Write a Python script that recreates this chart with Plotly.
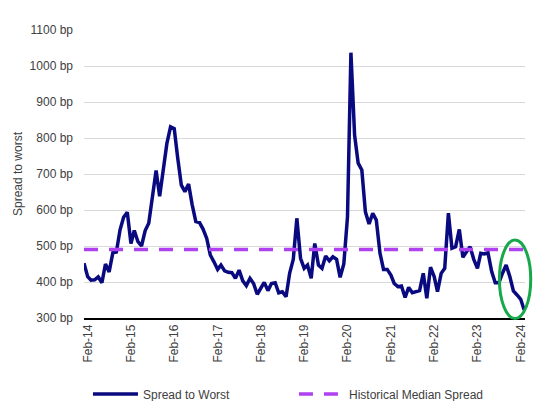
import pandas as pd
import plotly.graph_objects as go

# Monthly spread to worst (bp), Jan-2014 .. Mar-2024
dates = pd.date_range("2014-01-01", periods=123, freq="MS")
spread = [
    452, 415, 405, 406, 414, 398, 450, 428, 481, 483, 545, 580,
    594, 507, 543, 512, 500, 543, 563, 630, 710, 638, 711, 785,
    831, 826, 745, 669, 651, 672, 615, 568, 565, 547, 521, 475,
    456, 435, 447, 431, 427, 426, 410, 433, 403, 390, 410, 396,
    366, 382, 399, 376, 396, 398, 370, 373, 359, 424, 463, 577,
    466, 438, 447, 410, 507, 447, 438, 472, 459, 470, 463, 413,
    450, 581, 1037, 808, 730, 711, 595, 561, 591, 572, 480, 435,
    435, 419, 396, 387, 389, 357, 385, 370, 373, 376, 424, 355,
    441, 415, 373, 424, 438, 591, 494, 498, 546, 469, 484, 498,
    463, 438, 480, 478, 481, 429, 398, 398, 425, 447, 415, 375,
    364, 352, 322,
]
median_value = 490
median = [median_value] * len(dates)

tick_dates = pd.date_range("2014-02-01", periods=11, freq="12MS")
tick_labels = ["Feb-14", "Feb-15", "Feb-16", "Feb-17", "Feb-18", "Feb-19",
               "Feb-20", "Feb-21", "Feb-22", "Feb-23", "Feb-24"]

FONT = "Liberation Sans, Arial, sans-serif"
TXT = "#404040"

fig = go.Figure()
fig.add_trace(go.Scatter(
    x=dates, y=spread, mode="lines", name="Spread to Worst",
    line=dict(color="#0A0A80", width=3.5),
))
fig.add_trace(go.Scatter(
    x=dates, y=median, mode="lines", name="Historical Median Spread",
    line=dict(color="#B041F0", width=3.5, dash="14px,11px"),
))

fig.add_shape(type="circle", xref="paper", yref="paper",
              x0=0.942, x1=1.013, y0=-0.002, y1=0.271,
              line=dict(color="#16A84A", width=3))

# page has an 8px body margin, so the figure is sized to fit the 541x401 window
fig.update_layout(
    width=533, height=393,
    margin=dict(l=76, r=16, t=22, b=83, autoexpand=False),
    paper_bgcolor="white", plot_bgcolor="white",
    font=dict(family=FONT, size=12, color=TXT),
    showlegend=True,
    legend=dict(orientation="h", x=0.009, xanchor="left", y=-0.264, yanchor="middle",
                itemwidth=45, entrywidth=146, entrywidthmode="pixels",
                font=dict(family=FONT, size=12, color=TXT),
                bgcolor="rgba(0,0,0,0)"),
)
fig.update_xaxes(
    type="date", range=["2014-01-01", "2024-03-08"],
    tickvals=tick_dates, ticktext=tick_labels, tickangle=-90,
    showgrid=False, showline=True, linecolor="#000000", linewidth=1.5,
    ticks="", zeroline=False, automargin=False,
    tickfont=dict(family=FONT, size=12, color=TXT),
)
fig.update_yaxes(
    range=[300, 1100], dtick=100, tick0=300, ticksuffix=" bp",
    showgrid=True, gridcolor="#D9D9D9", gridwidth=1,
    showline=False, zeroline=False, ticks="", ticklabelstandoff=10,
    automargin=False,
    tickfont=dict(family=FONT, size=12, color=TXT),
    title=dict(text="Spread to worst", standoff=4,
               font=dict(family=FONT, size=12, color=TXT)),
)

fig.write_html("out.html")
